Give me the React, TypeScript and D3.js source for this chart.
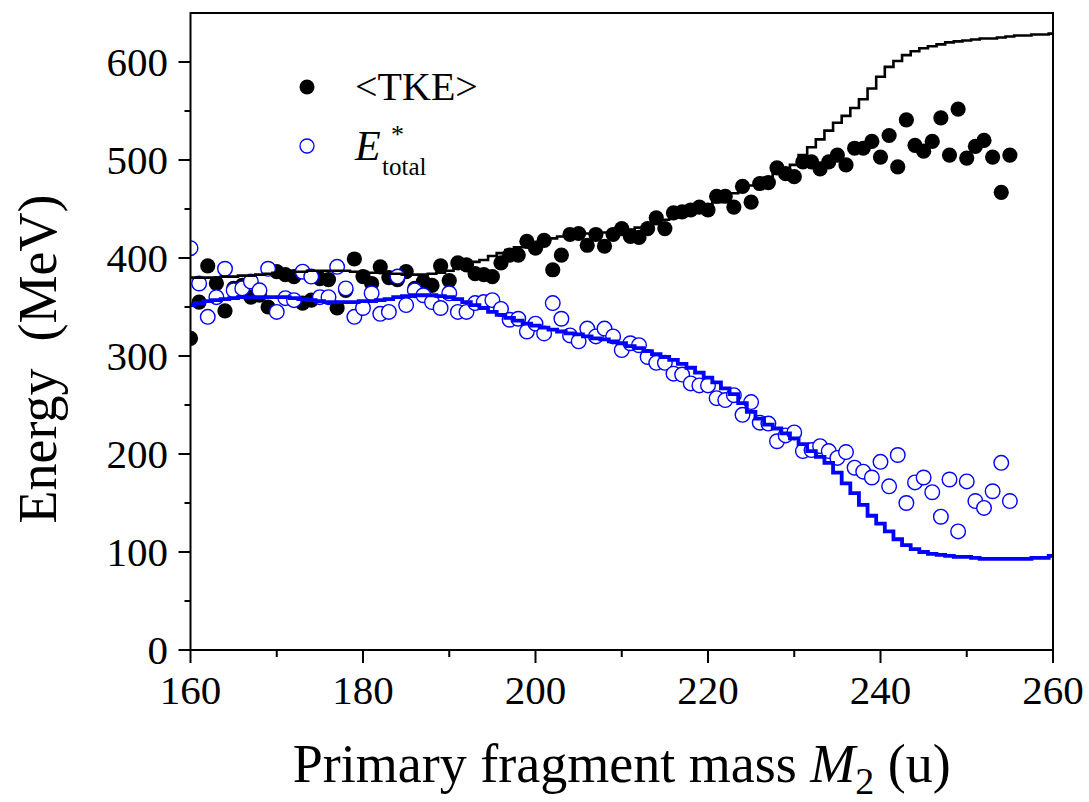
import React from "react";
import * as d3 from "d3";

// ---- data ----
const massTicks = [160, 180, 200, 220, 240, 260];
const massMinorTicks = [170, 190, 210, 230, 250];
const energyTicks = [0, 100, 200, 300, 400, 500, 600];
const energyMinorTicks = [50, 150, 250, 350, 450, 550];

// measured points, primary fragment mass 160..255
const pointMasses = d3.range(160, 256);
const tkeValues = [
  318, 355, 392, 374, 346, 369, 372, 360, 362, 350,
  386, 383, 381, 354, 357, 379, 378, 349, 367, 399,
  381, 374, 391, 380, 378, 386, 369, 376, 372, 392,
  377, 395, 393, 384, 383, 381, 395, 403, 403, 417,
  410, 418, 388, 403, 424, 425, 413, 424, 412, 424,
  430, 422, 421, 430, 441, 430, 446, 447, 449, 452,
  449, 463, 463, 452, 473, 457, 476, 477, 492, 486,
  483, 498, 498, 491, 498, 505, 495, 512, 512, 519,
  503, 525, 493, 541, 515, 509, 519, 543, 505, 552,
  502, 514, 520, 503, 467, 505,
];
const eTotalValues = [
  410, 374, 340, 360, 389, 367, 369, 376, 367, 389,
  345, 359, 357, 386, 381, 360, 360, 391, 369, 340,
  349, 364, 343, 345, 381, 352, 367, 362, 355, 349,
  364, 345, 345, 354, 355, 357, 348, 337, 338, 325,
  333, 323, 354, 338, 321, 315, 328, 320, 328, 320,
  306, 313, 311, 299, 293, 293, 282, 281, 272, 270,
  270, 257, 255, 260, 240, 253, 232, 231, 213, 219,
  222, 203, 204, 208, 203, 196, 202, 186, 182, 176,
  192, 167, 199, 150, 171, 176, 161, 136, 174, 121,
  172, 152, 145, 162, 191, 152,
];

// calculated step curves, mass 160..260
const lineMasses = d3.range(160, 261);
const tkeCalc = [
  380, 380, 380, 380, 381, 381, 382, 382, 383, 384,
  385, 385, 386, 386, 387, 387, 387, 387, 387, 386,
  386, 385, 385, 384, 384, 383, 383, 383, 384, 385,
  387, 390, 393, 396, 398, 402, 405, 408, 411, 414,
  416, 418, 420, 422, 423, 424, 425, 426, 426, 427,
  428, 429, 431, 434, 437, 439, 442, 444, 447, 450,
  453, 457, 462, 466, 470, 474, 478, 482, 486, 490,
  495, 505, 513, 521, 530, 538, 545, 553, 562, 573,
  585, 595, 601, 607, 611, 614, 616, 618, 620, 621,
  622, 623, 624, 624, 625, 626, 627, 627, 628, 628,
  629,
];
const eTotalCalc = [
  352, 354, 356, 357, 358, 359, 360, 360, 360, 360,
  360, 360, 359, 358, 357, 356, 355, 355, 355, 355,
  356, 356, 357, 358, 360, 361, 362, 362, 362, 361,
  360, 358, 355, 352, 349, 345, 342, 339, 336, 333,
  331, 329, 327, 325, 323, 322, 320, 318, 317, 315,
  313, 310, 308, 305, 302, 299, 296, 292, 288, 283,
  278, 273, 267, 261, 252, 243, 236, 230, 226, 221,
  216, 210, 203, 197, 191, 181, 170, 160, 148, 137,
  129, 121, 113, 107, 103, 100, 98, 97, 96, 95,
  95, 94, 93, 93, 93, 93, 93, 93, 94, 94,
  96,
];

const W = 1089;
const H = 802;
const M = { left: 190.5, right: 1053, top: 13, bottom: 650 };
const FONT = "'Liberation Serif', 'Times New Roman', serif";
const BLUE = "#0000ff";

export default function App() {
  const x = d3.scaleLinear().domain([160, 260]).range([M.left, M.right]);
  const y = d3.scaleLinear().domain([0, 650]).range([M.bottom, M.top]);

  const stepLine = d3
    .line<number>()
    .x((_, i) => x(lineMasses[i]))
    .y((d) => y(d))
    .curve(d3.curveStep);

  const tkePts = pointMasses.map((m, i) => ({ m, v: tkeValues[i] }));
  const ePts = pointMasses.map((m, i) => ({ m, v: eTotalValues[i] }));

  return (
    <div style={{ position: "absolute", left: 0, top: 0 }}>
      <svg width={W} height={H} style={{ display: "block", background: "#fff" }} fontFamily={FONT}>
        <defs>
          <clipPath id="plotclip">
            <rect x={M.left} y={M.top} width={M.right - M.left} height={M.bottom - M.top} />
          </clipPath>
        </defs>

        {/* data */}
        <g clipPath="url(#plotclip)">
          {tkePts.map((p) => (
            <circle key={"t" + p.m} cx={x(p.m)} cy={y(p.v)} r={7.6} fill="#000" />
          ))}
          {ePts.map((p) => (
            <circle
              key={"e" + p.m}
              cx={x(p.m)}
              cy={y(p.v)}
              r={7.3}
              fill="#fff"
              stroke={BLUE}
              strokeWidth={1.4}
            />
          ))}
          <path d={stepLine(eTotalCalc) || ""} fill="none" stroke={BLUE} strokeWidth={3.8} />
          <path d={stepLine(tkeCalc) || ""} fill="none" stroke="#000" strokeWidth={2.6} />
        </g>

        {/* frame */}
        <rect
          x={M.left}
          y={M.top}
          width={M.right - M.left}
          height={M.bottom - M.top}
          fill="none"
          stroke="#000"
          strokeWidth={2}
        />

        {/* x ticks */}
        {massTicks.map((t) => (
          <g key={"xt" + t}>
            <line x1={x(t)} x2={x(t)} y1={M.bottom} y2={M.bottom + 13} stroke="#000" strokeWidth={2} />
            <text x={x(t)} y={704} fontSize={41} textAnchor="middle" fill="#000">
              {t}
            </text>
          </g>
        ))}
        {massMinorTicks.map((t) => (
          <line key={"xm" + t} x1={x(t)} x2={x(t)} y1={M.bottom} y2={M.bottom + 7} stroke="#000" strokeWidth={2} />
        ))}

        {/* y ticks */}
        {energyTicks.map((t) => (
          <g key={"yt" + t}>
            <line x1={M.left - 12} x2={M.left} y1={y(t)} y2={y(t)} stroke="#000" strokeWidth={2} />
            <text x={168} y={y(t) + 14} fontSize={41} textAnchor="end" fill="#000">
              {t}
            </text>
          </g>
        ))}
        {energyMinorTicks.map((t) => (
          <line key={"ym" + t} x1={M.left - 6} x2={M.left} y1={y(t)} y2={y(t)} stroke="#000" strokeWidth={2} />
        ))}

        {/* axis titles */}
        <text x={(M.left + M.right) / 2} y={782} fontSize={54} textAnchor="middle" fill="#000">
          Primary fragment mass <tspan fontStyle="italic">M</tspan>
          <tspan fontSize={38} dy={12}>2</tspan>
          <tspan dy={-12}> (u)</tspan>
        </text>
        <text
          transform={`translate(56,359) rotate(-90)`}
          fontSize={54}
          textAnchor="middle"
          fill="#000"
          style={{ whiteSpace: "pre" }}
        >
          {"Energy  (MeV)"}
        </text>

        {/* legend */}
        <circle cx={307} cy={87} r={7.5} fill="#000" />
        <text x={355} y={100} fontSize={40} fill="#000">
          {"<TKE>"}
        </text>
        <circle cx={307} cy={146} r={7} fill="#fff" stroke={BLUE} strokeWidth={1.3} />
        <text x={355} y={160} fontSize={42} fontStyle="italic" fill="#000">
          E
        </text>
        <text x={391} y={143} fontSize={26} fill="#000">
          *
        </text>
        <text x={382} y={175} fontSize={25} fill="#000">
          total
        </text>
      </svg>
    </div>
  );
}
